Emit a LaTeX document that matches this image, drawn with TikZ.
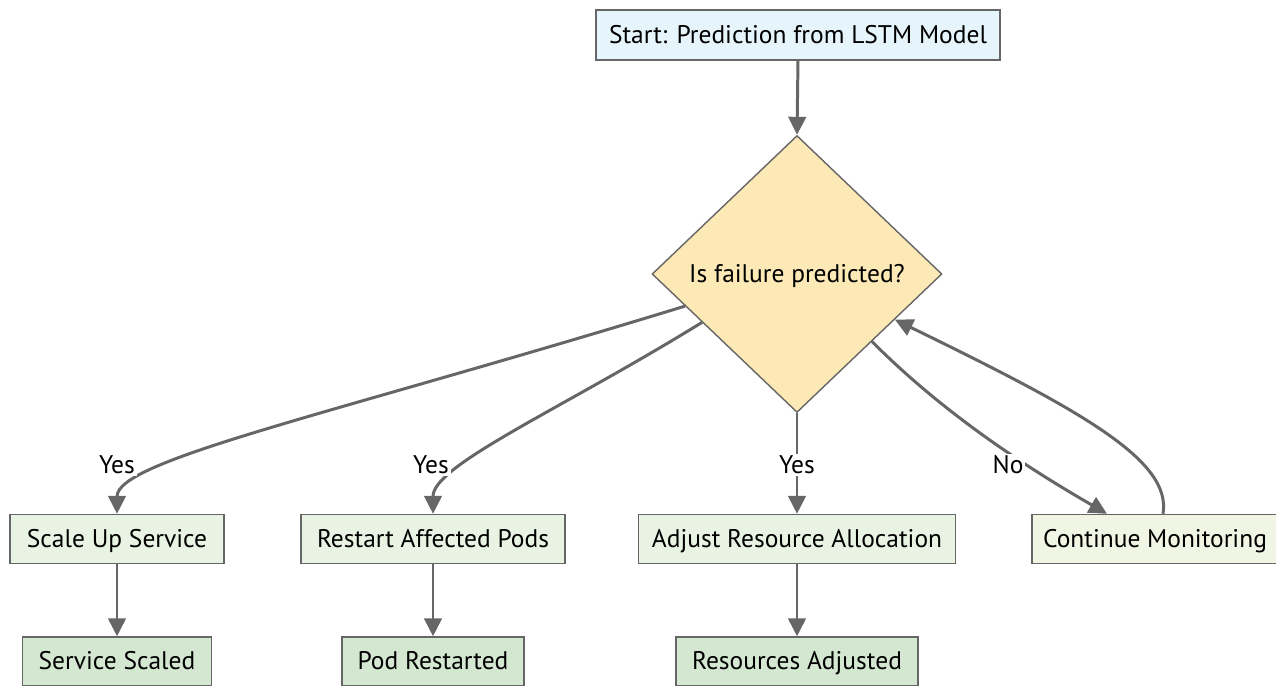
\documentclass[tikz,border=0pt]{standalone}
\usepackage{fontspec}
\setmainfont{PT Sans}
\usetikzlibrary{shapes.geometric,arrows.meta}
\definecolor{edgegray}{HTML}{666666}
\definecolor{startfill}{HTML}{E6F5FB}
\definecolor{decfill}{HTML}{FCE9B6}
\definecolor{actfill}{HTML}{E8F3E3}
\definecolor{contfill}{HTML}{F1F6E4}
\definecolor{resfill}{HTML}{D4E8D1}
\begin{document}
\begin{tikzpicture}[x=0.02cm,y=-0.02cm,
  every node/.style={font=\fontsize{14.5}{17}\selectfont, text=black},
  boxbase/.style={draw=edgegray, line width=0.8pt, rectangle, minimum height=0.98cm, inner sep=0pt, text height=2.0ex, text depth=0.1ex},
  startbox/.style={boxbase, fill=startfill, minimum width=8.08cm, minimum height=1.0cm},
  dec/.style={draw=edgegray, line width=0.8pt, diamond, fill=decfill, aspect=1, inner sep=0pt, minimum width=5.8cm, minimum height=5.54cm, text height=2.0ex, text depth=0.1ex},
  act/.style={boxbase, fill=actfill},
  cont/.style={boxbase, fill=contfill},
  res/.style={boxbase, fill=resfill},
  edge/.style={draw=edgegray, line width=1.7pt, -{Triangle[length=0.36cm,width=0.35cm]}},
  lbl/.style={fill=white, inner sep=1pt}
]
\useasboundingbox (0,0) rectangle (1276,686);
\node[startbox] (s) at (798,35) {Start: Prediction from LSTM Model};
\node[dec] (d) at (797,274) {Is failure predicted?};
\node[act, minimum width=4.28cm] (a1) at (117,539) {Scale Up Service};
\node[act, minimum width=5.28cm] (a2) at (433,539) {Restart Affected Pods};
\node[act, minimum width=6.34cm] (a3) at (797,539) {Adjust Resource Allocation};
\node[cont, minimum width=4.92cm] (c) at (1155,539) {Continue Monitoring};
\node[res, minimum width=3.78cm] (r1) at (117,661.5) {Service Scaled};
\node[res, minimum width=3.64cm] (r2) at (433,661.5) {Pod Restarted};
\node[res, minimum width=4.84cm] (r3) at (797,661.5) {Resources Adjusted};

\draw[edge] (s.south) -- (d.north);
\draw[edge] (d.196.7) .. controls (330,415) and (117,460) .. (a1.north);
\draw[edge] (d.207.5) .. controls (560,410) and (433,465) .. (a2.north);
\draw[edge] (d.south) -- (a3.north);
\draw[edge] (d.-42) .. controls (950,420) and (1040,475) .. ([xshift=-0.96cm]c.north);
\draw[edge] ([xshift=0.16cm]c.north) .. controls (1172,460) and (1080,410) .. (d.-25.6);
\draw[edge] (a1.south) -- (r1.north);
\draw[edge] (a2.south) -- (r2.north);
\draw[edge] (a3.south) -- (r3.north);

\node[lbl] (y1) at (117,465) {Yes};
\node[lbl] (y2) at (431,465) {Yes};
\node[lbl] (y3) at (797,465) {Yes};
\node[lbl] (n1) at (1008,465) {No};
\end{tikzpicture}
\end{document}
